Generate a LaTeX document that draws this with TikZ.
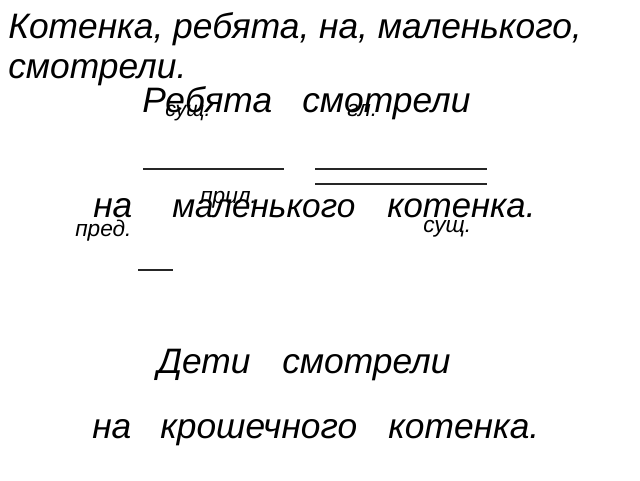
\documentclass[tikz,border=0pt]{standalone}
\usepackage{fontspec}
\setmainfont{Liberation Sans}
\usepackage{tikz}
\usetikzlibrary{positioning}

\begin{document}
\begin{tikzpicture}[x=0.75pt,y=-0.75pt,
    word/.style={anchor=base west,inner sep=0pt,font=\fontsize{26.5}{32}\selectfont\itshape},
    partlbl/.style={anchor=base west,inner sep=0pt,font=\fontsize{17}{20}\selectfont\itshape},
    underl/.style={line width=1.4pt,black!85}]
		\useasboundingbox (0,0) rectangle (640,480);

		% task line
	    \node[word] (task1) at (8,38) {Котенка, ребята, на, маленького,};
	    \node[word] (task2) at (8,78) {смотрели.};

		% first sentence
	    \node[word] (subj) at (142,112) {Ребята};
	    \node[word] (pred) at (302,112) {смотрели};
	    \node[partlbl,font=\fontsize{16}{20}\selectfont\itshape] (subjlbl) at (165,116) {сущ.};
	    \node[partlbl] (predlbl) at (347,116) {гл.};

		\draw[underl] (143,169) -- (284,169);
		\draw[underl] (315,169) -- (487,169);
		\draw[underl] (315,184) -- (487,184);

	    \node[word] (prep) at (93,217) {на};
	    \node[word,font=\fontsize{25}{30}\selectfont\itshape] (adj) at (172,217) {маленького};
	    \node[word,font=\fontsize{26}{30}\selectfont\itshape] (obj) at (387,217) {котенка.};
	    \node[partlbl] (adjlbl) at (200,203) {прил.};
	    \node[partlbl] (preplbl) at (75,236) {пред.};
	    \node[partlbl] (objlbl) at (423,232) {сущ.};

		\draw[underl] (138,270) -- (173,270);

		% second sentence
	    \node[word] (subj2) at (157,373) {Дети};
	    \node[word] (pred2) at (282,373) {смотрели};
	    \node[word] (prep2) at (92,438) {на};
	    \node[word] (adj2) at (160,438) {крошечного};
	    \node[word] (obj2) at (388,438) {котенка.};
    \end{tikzpicture}
\end{document}
